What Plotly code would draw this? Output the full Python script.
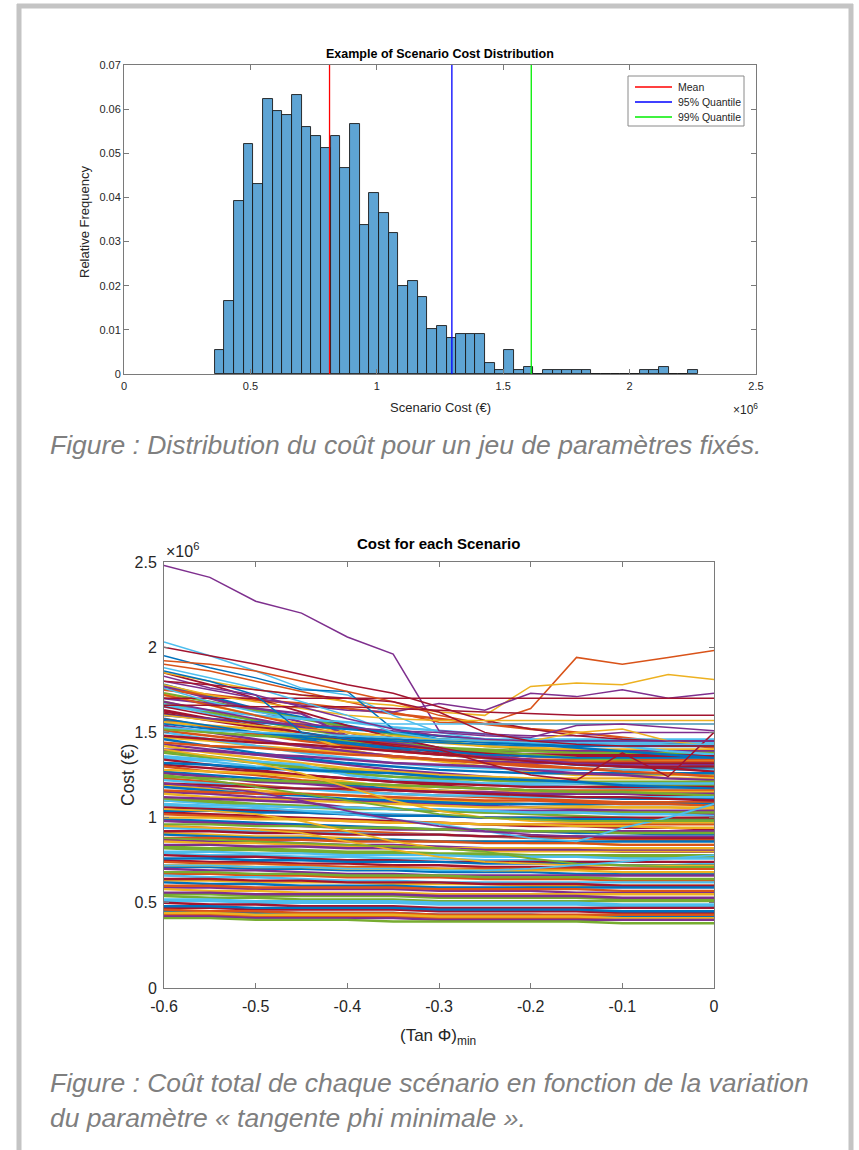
import plotly.graph_objects as go

W, H = 859, 1150
FONT = "Liberation Sans, Arial, Helvetica, sans-serif"

# ---------------- Top chart data : histogram ----------------
bin_start = 359000          # left edge of first bin (EUR)
bin_width = 38200           # bin width (EUR)
rel_freq = [0.0055, 0.0165, 0.0393, 0.0521, 0.0431, 0.0622, 0.0595, 0.0586, 0.0631, 0.0559,
            0.0540, 0.0512, 0.0540, 0.0466, 0.0567, 0.0338, 0.0411, 0.0365, 0.0320, 0.0200,
            0.0210, 0.0174, 0.0101, 0.0109, 0.0082, 0.0091, 0.0091, 0.0091, 0.0026, 0.0009,
            0.0054, 0.0009, 0.0017, 0.0, 0.0009, 0.0009, 0.0009, 0.0009, 0.0009, 0.0,
            0.0, 0.0, 0.0, 0.0, 0.0009, 0.0009, 0.0017, 0.0, 0.0, 0.0009]
mean_cost = 813000
q95_cost = 1297000
q99_cost = 1611000
stat_names = ["Mean", "95% Quantile", "99% Quantile"]
stat_colors = ["#ff0000", "#0000ff", "#00ee00"]
hist_xticks = [0, 500000, 1000000, 1500000, 2000000, 2500000]
hist_xlabels = ["0", "0.5", "1", "1.5", "2", "2.5"]
hist_yticks = [0, 0.01, 0.02, 0.03, 0.04, 0.05, 0.06, 0.07]
hist_ylabels = ["0", "0.01", "0.02", "0.03", "0.04", "0.05", "0.06", "0.07"]

# ---------------- Bottom chart data : cost per scenario (unit: 1e4 EUR) ----------------
tan_phi = [-0.6, -0.55, -0.5, -0.45, -0.4, -0.35, -0.3, -0.25, -0.2, -0.15, -0.1, -0.05, 0.0]

band_scenarios = [
    [178, 171, 164, 159, 154, 149, 146, 144, 143, 142, 142, 142, 142],
    [175, 172, 169, 167, 164, 161, 158, 155, 152, 150, 147, 144, 141],
    [172, 166, 160, 155, 150, 146, 144, 142, 141, 140, 140, 140, 140],
    [170, 167, 164, 161, 148, 142, 140, 139, 139, 139, 139, 139, 139],
    [168, 162, 157, 152, 148, 144, 141, 140, 139, 138, 138, 138, 138],
    [165, 163, 160, 158, 156, 153, 151, 149, 146, 144, 142, 139, 137],
    [163, 158, 153, 148, 145, 141, 139, 137, 136, 136, 136, 136, 136],
    [160, 158, 156, 154, 152, 150, 148, 146, 143, 141, 139, 137, 135],
    [158, 153, 149, 145, 142, 139, 137, 135, 134, 134, 134, 134, 134],
    [156, 154, 152, 149, 140, 135, 134, 133, 133, 133, 133, 133, 133],
    [154, 150, 146, 142, 139, 136, 134, 133, 132, 132, 132, 132, 132],
    [152, 150, 148, 147, 145, 143, 141, 139, 137, 135, 134, 132, 130],
    [150, 146, 142, 138, 135, 132, 130, 129, 128, 128, 128, 128, 128],
    [148, 146, 144, 143, 141, 139, 137, 136, 134, 132, 130, 129, 127],
    [146, 142, 138, 135, 132, 130, 128, 127, 126, 126, 126, 126, 126],
    [144, 142, 141, 139, 137, 136, 134, 132, 131, 129, 127, 126, 124],
    [142, 138, 135, 132, 129, 127, 125, 124, 123, 123, 123, 123, 123],
    [140, 139, 137, 136, 134, 132, 131, 130, 128, 126, 125, 123, 122],
    [138, 135, 132, 129, 126, 124, 123, 122, 121, 121, 121, 121, 121],
    [136, 134, 133, 131, 125, 122, 121, 120, 120, 120, 120, 120, 120],
    [134, 131, 128, 125, 123, 121, 120, 119, 118, 118, 118, 118, 118],
    [132, 131, 129, 128, 127, 126, 124, 123, 122, 121, 119, 118, 117],
    [130, 127, 125, 122, 120, 119, 118, 117, 116, 116, 116, 116, 116],
    [128, 127, 126, 124, 121, 118, 116, 115, 115, 115, 115, 115, 115],
    [126, 124, 121, 120, 118, 116, 115, 115, 114, 114, 114, 114, 114],
    [124, 123, 122, 121, 120, 119, 118, 117, 116, 115, 115, 114, 113],
    [122, 120, 118, 117, 115, 114, 113, 113, 112, 112, 112, 112, 112],
    [120, 119, 118, 117, 117, 116, 115, 114, 113, 112, 112, 111, 110],
    [118, 116, 114, 113, 111, 110, 109, 108, 108, 108, 108, 108, 108],
    [116, 115, 114, 114, 113, 112, 111, 110, 110, 109, 108, 108, 107],
    [114, 112, 111, 110, 109, 108, 107, 106, 106, 106, 106, 106, 106],
    [112, 111, 110, 109, 106, 105, 104, 104, 104, 104, 104, 104, 104],
    [110, 109, 107, 106, 105, 105, 104, 103, 103, 103, 103, 103, 103],
    [108, 107, 107, 106, 106, 105, 105, 104, 103, 103, 102, 102, 101],
    [106, 105, 104, 103, 102, 101, 101, 100, 100, 100, 100, 100, 100],
    [104, 104, 103, 103, 102, 101, 101, 100, 100, 99, 99, 98, 98],
    [102, 101, 100, 99, 98, 97, 97, 96, 96, 96, 96, 96, 96],
    [100, 100, 99, 99, 98, 97, 97, 96, 96, 95, 95, 94, 94],
    [98, 97, 96, 95, 94, 93, 93, 92, 92, 92, 92, 92, 92],
    [96, 96, 95, 95, 94, 94, 93, 93, 92, 92, 91, 91, 91],
    [94, 93, 92, 91, 91, 90, 90, 89, 89, 89, 89, 89, 89],
    [92, 92, 91, 91, 90, 90, 90, 89, 89, 89, 88, 88, 88],
    [90, 89, 88, 88, 87, 87, 86, 86, 86, 86, 86, 86, 86],
    [88, 88, 87, 87, 86, 86, 86, 85, 85, 85, 84, 84, 84],
    [86, 85, 85, 84, 83, 83, 82, 82, 82, 82, 82, 82, 82],
    [84, 84, 83, 83, 82, 82, 82, 81, 81, 81, 80, 80, 80],
    [82, 81, 81, 80, 79, 79, 78, 78, 78, 78, 78, 78, 78],
    [80, 80, 79, 79, 78, 78, 78, 77, 77, 77, 76, 76, 76],
    [78, 77, 77, 76, 75, 75, 74, 74, 74, 74, 74, 74, 74],
    [76, 76, 75, 75, 74, 74, 74, 73, 73, 73, 72, 72, 72],
    [74, 73, 73, 72, 71, 71, 70, 70, 70, 70, 70, 70, 70],
    [72, 72, 71, 71, 70, 70, 70, 69, 69, 69, 68, 68, 68],
    [70, 69, 69, 68, 67, 67, 66, 66, 66, 66, 66, 66, 66],
    [68, 68, 67, 67, 66, 66, 66, 65, 65, 65, 64, 64, 64],
    [66, 65, 65, 64, 63, 63, 62, 62, 62, 62, 62, 62, 62],
    [64, 64, 63, 63, 62, 62, 62, 61, 61, 61, 60, 60, 60],
    [62, 61, 61, 60, 60, 60, 59, 59, 59, 59, 59, 59, 59],
    [60, 60, 59, 59, 59, 59, 58, 58, 58, 58, 57, 57, 57],
    [58, 57, 57, 56, 56, 56, 55, 55, 55, 55, 55, 55, 55],
    [56, 56, 55, 55, 55, 55, 54, 54, 54, 54, 53, 53, 53],
    [54, 53, 53, 52, 52, 52, 51, 51, 51, 51, 51, 51, 51],
    [52, 52, 51, 51, 51, 51, 50, 50, 50, 50, 49, 49, 49],
    [50, 49, 49, 48, 48, 48, 47, 47, 47, 47, 47, 47, 47],
    [48, 48, 47, 47, 47, 47, 46, 46, 46, 46, 45, 45, 45],
    [46, 45, 45, 44, 44, 44, 43, 43, 43, 43, 43, 43, 43],
    [44, 44, 43, 43, 43, 43, 42, 42, 42, 42, 41, 41, 41],
    [42, 42, 41, 41, 41, 41, 40, 40, 40, 40, 40, 40, 40],
    [41, 41, 40, 40, 40, 39, 39, 39, 39, 39, 38, 38, 38],
]

band_scenarios_b = [
    [177, 170, 163, 156, 150, 145, 141, 138, 137, 136, 136, 136, 136],
    [173, 168, 163, 158, 153, 149, 145, 142, 140, 139, 139, 139, 139],
    [167, 161, 155, 150, 146, 142, 139, 137, 136, 135, 135, 135, 135],
    [161, 157, 153, 149, 146, 143, 140, 138, 137, 137, 137, 137, 137],
    [157, 153, 149, 146, 143, 140, 137, 135, 133, 131, 130, 129, 129],
    [151, 148, 145, 142, 139, 136, 134, 132, 130, 129, 128, 128, 128],
    [147, 145, 142, 140, 138, 136, 133, 130, 127, 125, 125, 125, 125],
    [143, 140, 137, 134, 131, 128, 126, 124, 122, 121, 120, 120, 120],
    [139, 136, 133, 130, 128, 126, 124, 122, 121, 120, 119, 119, 119],
    [135, 133, 130, 128, 126, 124, 122, 120, 119, 118, 117, 117, 117],
    [131, 129, 127, 125, 123, 121, 119, 117, 116, 115, 114, 113, 113],
    [127, 125, 123, 121, 119, 117, 116, 114, 113, 112, 111, 111, 111],
    [123, 121, 119, 117, 116, 114, 113, 112, 111, 110, 109, 109, 109],
    [119, 117, 116, 114, 113, 111, 110, 109, 108, 107, 106, 106, 105],
    [115, 114, 112, 111, 110, 109, 108, 107, 106, 105, 104, 103, 102],
    [111, 110, 108, 107, 106, 105, 104, 103, 102, 101, 100, 99, 99],
    [107, 106, 105, 104, 103, 102, 101, 100, 99, 98, 97, 97, 97],
    [103, 102, 101, 100, 99, 98, 97, 96, 95, 95, 94, 94, 93],
    [99, 98, 97, 96, 95, 94, 93, 93, 92, 91, 91, 90, 90],
    [95, 94, 93, 92, 92, 91, 90, 89, 88, 88, 87, 87, 87],
    [91, 90, 89, 89, 88, 87, 86, 86, 85, 85, 84, 84, 84],
    [87, 86, 86, 85, 84, 84, 83, 82, 82, 81, 81, 81, 81],
    [83, 82, 82, 81, 80, 80, 79, 79, 78, 78, 77, 77, 77],
    [79, 78, 78, 77, 77, 76, 76, 75, 75, 74, 74, 74, 73],
    [75, 74, 74, 73, 73, 72, 72, 71, 71, 71, 70, 70, 70],
    [71, 71, 70, 70, 69, 69, 68, 68, 68, 67, 67, 67, 67],
    [67, 67, 66, 66, 65, 65, 65, 64, 64, 64, 63, 63, 63],
    [63, 63, 62, 62, 62, 61, 61, 61, 60, 60, 60, 60, 60],
    [59, 59, 58, 58, 58, 58, 57, 57, 57, 56, 56, 56, 56],
    [55, 55, 54, 54, 54, 54, 53, 53, 53, 53, 52, 52, 52],
    [51, 51, 50, 50, 50, 50, 49, 49, 49, 49, 48, 48, 48],
    [47, 47, 46, 46, 46, 46, 45, 45, 45, 45, 44, 44, 44],
    [45, 45, 44, 44, 44, 44, 43, 43, 43, 42, 42, 42, 42],
    [43, 43, 42, 42, 42, 42, 41, 41, 41, 41, 41, 40, 40],
]

mid_scenarios = [
    [185, 178, 170, 162, 154, 147, 141, 136, 133, 132, 132, 132, 132],
    [172, 166, 160, 154, 148, 143, 139, 136, 134, 133, 133, 133, 133],
    [168, 163, 158, 153, 148, 144, 140, 136, 134, 132, 131, 131, 131],
    [162, 158, 154, 150, 146, 142, 138, 135, 133, 131, 130, 130, 130],
    [158, 154, 150, 147, 144, 141, 139, 137, 136, 135, 135, 135, 135],
    [155, 152, 150, 148, 147, 146, 145, 145, 145, 145, 145, 145, 145],
    [153, 151, 150, 149, 148, 147, 146, 146, 146, 146, 146, 146, 146],
    [140, 136, 132, 126, 118, 110, 104, 100, 98, 97, 97, 97, 97],
    [110, 108, 106, 104, 102, 99, 96, 92, 88, 86, 94, 100, 108],
    [105, 104, 102, 98, 92, 86, 82, 80, 80, 80, 80, 80, 80],
    [125, 122, 118, 114, 110, 106, 102, 100, 99, 98, 98, 98, 98],
    [95, 94, 93, 91, 86, 81, 77, 74, 73, 72, 72, 72, 72],
    [88, 87, 86, 85, 84, 83, 82, 80, 76, 73, 72, 71, 71],
    [72, 72, 71, 71, 70, 70, 69, 69, 70, 72, 74, 76, 78],
    [120, 118, 115, 110, 104, 99, 95, 92, 90, 89, 89, 89, 89],
]
mid_colors = [6, 1, 3, 6, 0, 0, 5, 2, 5, 2, 4, 2, 4, 5, 3]

top_scenarios = [
    [248, 241, 227, 220, 206, 196, 151, 149, 148, 148, 150, 150, 150],
    [190, 186, 180, 174, 168, 162, 156, 155, 164, 194, 190, 194, 198],
    [185, 180, 175, 172, 168, 166, 162, 160, 177, 179, 178, 184, 181],
    [180, 175, 170, 166, 163, 162, 167, 163, 173, 171, 175, 170, 173],
    [170, 170, 170, 170, 170, 170, 170, 170, 170, 170, 170, 170, 170],
    [203, 195, 186, 176, 172, 160, 150, 146, 145, 144, 144, 144, 144],
    [200, 195, 190, 184, 178, 173, 165, 157, 152, 148, 146, 145, 145],
    [195, 188, 182, 175, 174, 152, 146, 145, 144, 143, 143, 143, 143],
    [192, 190, 186, 180, 174, 168, 160, 155, 155, 155, 155, 155, 155],
    [178, 172, 168, 164, 160, 158, 157, 157, 157, 157, 157, 157, 157],
    [176, 168, 162, 158, 156, 155, 155, 155, 155, 155, 155, 155, 155],
    [160, 158, 156, 155, 153, 151, 150, 148, 147, 154, 155, 153, 151],
    [165, 160, 155, 150, 146, 143, 140, 132, 125, 122, 138, 124, 150],
    [160, 157, 154, 152, 150, 148, 146, 145, 145, 150, 152, 145, 142],
    [166, 166, 165, 165, 165, 164, 163, 162, 161, 160, 160, 160, 160],
    [188, 182, 176, 168, 160, 150, 146, 145, 144, 143, 143, 143, 143],
    [186, 180, 172, 150, 146, 145, 144, 143, 142, 142, 142, 142, 142],
    [183, 176, 172, 165, 158, 152, 148, 146, 145, 145, 145, 145, 145],
    [180, 178, 175, 172, 170, 168, 162, 150, 145, 143, 142, 142, 142],
]
top_colors = [3, 1, 2, 3, 6, 5, 6, 0, 1, 2, 5, 3, 6, 2, 6, 5, 0, 3, 6]

cost_yticks = [0, 500000, 1000000, 1500000, 2000000, 2500000]
cost_ylabels = ["0", "0.5", "1", "1.5", "2", "2.5"]
phi_xticks = [-0.6, -0.5, -0.4, -0.3, -0.2, -0.1, 0.0]
phi_xlabels = ["-0.6", "-0.5", "-0.4", "-0.3", "-0.2", "-0.1", "0"]

MATLAB_COLORS = ["#0072BD", "#D95319", "#EDB120", "#7E2F8E", "#77AC30", "#4DBEEE", "#A2142F"]

# ---------------- Figure ----------------
fig = go.Figure()

centers = [bin_start + bin_width * (i + 0.5) for i in range(len(rel_freq))]
fig.add_trace(go.Bar(
    x=centers, y=rel_freq, width=bin_width,
    marker=dict(color="rgb(94,164,212)", line=dict(color="#1a1a1a", width=0.9)),
    showlegend=False, xaxis="x", yaxis="y", hoverinfo="skip",
))
for val, col, name in zip([mean_cost, q95_cost, q99_cost], stat_colors, stat_names):
    fig.add_trace(go.Scatter(
        x=[val, val], y=[0, 0.07], mode="lines", name=name, showlegend=False,
        line=dict(color=col, width=1.3), xaxis="x", yaxis="y",
    ))


def add_line(row, color, width):
    fig.add_trace(go.Scatter(
        x=tan_phi, y=[v * 10000 for v in row], mode="lines",
        line=dict(color=color, width=width), showlegend=False,
        xaxis="x2", yaxis="y2", hoverinfo="skip",
    ))


na, nb = len(band_scenarios), len(band_scenarios_b)
for i in range(max(na, nb)):
    if i < na:
        add_line(band_scenarios[i], MATLAB_COLORS[i % 7], 2.4)
    if i < nb:
        add_line(band_scenarios_b[i], MATLAB_COLORS[(i + 3) % 7], 2.4)
for row, ci in zip(mid_scenarios, mid_colors):
    add_line(row, MATLAB_COLORS[ci], 1.8)
for row, ci in zip(top_scenarios, top_colors):
    add_line(row, MATLAB_COLORS[ci], 1.5)


def px(x):
    return x / W


def py(y):
    return 1 - y / H


axis_common = dict(showline=True, linecolor="#7a7a7a", linewidth=1, mirror="ticks",
                   ticks="inside", tickcolor="#7a7a7a", showgrid=False, zeroline=False,
                   automargin=False)

fig.update_layout(
    width=W, height=H, autosize=False,
    margin=dict(l=0, r=0, t=0, b=0),
    paper_bgcolor="white", plot_bgcolor="white",
    font=dict(family=FONT, color="#262626"),
    showlegend=False,
    xaxis=dict(domain=[px(124), px(756)], range=[0, 2500000], tickvals=hist_xticks,
               ticktext=hist_xlabels, ticklen=5, tickfont=dict(size=11), anchor="y",
               ticklabelstandoff=2, **axis_common),
    yaxis=dict(domain=[py(374), py(65)], range=[0, 0.07], tickvals=hist_yticks,
               ticktext=hist_ylabels, ticklen=5, tickfont=dict(size=11), anchor="x",
               **axis_common),
    xaxis2=dict(domain=[px(164), px(714)], range=[-0.6, 0], tickvals=phi_xticks,
                ticktext=phi_xlabels, ticklen=5, tickfont=dict(size=16), anchor="y2",
                ticklabelstandoff=4, **axis_common),
    yaxis2=dict(domain=[py(988), py(562)], range=[0, 2500000], tickvals=cost_yticks,
                ticktext=cost_ylabels, ticklen=5, tickfont=dict(size=16), anchor="x2",
                ticklabelstandoff=3, **axis_common),
    bargap=0,
)

shapes = []
grey_border = "#c4c4c4"
shapes.append(dict(type="line", xref="paper", yref="paper", x0=px(19), x1=px(19), y0=0, y1=py(4),
                   line=dict(color=grey_border, width=5)))
shapes.append(dict(type="line", xref="paper", yref="paper", x0=px(851), x1=px(851), y0=0, y1=py(4),
                   line=dict(color=grey_border, width=5)))
shapes.append(dict(type="line", xref="paper", yref="paper", x0=px(17), x1=px(853), y0=py(6), y1=py(6),
                   line=dict(color=grey_border, width=5)))

# legend box of the histogram
shapes.append(dict(type="rect", xref="paper", yref="paper", x0=px(628), x1=px(744),
                   y0=py(126), y1=py(76), line=dict(color="#8a8a8a", width=1),
                   fillcolor="white"))

ann = []


def text(x, y, s, size, color="#262626", xanchor="center", angle=0, yanchor="middle"):
    ann.append(dict(x=px(x), y=py(y), xref="paper", yref="paper", text=s, showarrow=False,
                    xanchor=xanchor, yanchor=yanchor, textangle=angle,
                    font=dict(size=size, color=color, family=FONT)))


for k, (name, col) in enumerate(zip(stat_names, stat_colors)):
    yy = 87 + 15 * k
    shapes.append(dict(type="line", xref="paper", yref="paper", x0=px(635), x1=px(672),
                       y0=py(yy), y1=py(yy), line=dict(color=col, width=1.3)))
    text(676, yy, name, 10.5, xanchor="left")

text(440, 54, "<b>Example of Scenario Cost Distribution</b>", 12.5, color="#000000")
text(85, 222, "Relative Frequency", 13, angle=-90)
text(440, 408, "Scenario Cost (€)", 13)
text(745, 409, "×10<sup>6</sup>", 12)
text(48, 445, "<i>Figure : Distribution du coût pour un jeu de paramètres fixés.</i>", 26.5,
     color="#7f7f7f", xanchor="left")

text(438, 543, "<b>Cost for each Scenario</b>", 15, color="#000000")
text(164, 550, "×10<sup>6</sup>", 16, xanchor="left")
text(128, 775, "Cost (€)", 17.5, angle=-90)
text(438, 1037, "(Tan Φ)<sub>min</sub>", 17)
text(48, 1083, "<i>Figure : Coût total de chaque scénario en fonction de la variation</i>", 26.5,
     color="#7f7f7f", xanchor="left")
text(48, 1118, "<i>du paramètre « tangente phi minimale ».</i>", 26.5,
     color="#7f7f7f", xanchor="left")

fig.update_layout(annotations=ann, shapes=shapes)

fig.write_html("out.html", config={"displayModeBar": False},
               post_script="document.body.style.margin='0';document.body.style.overflow='hidden';")
